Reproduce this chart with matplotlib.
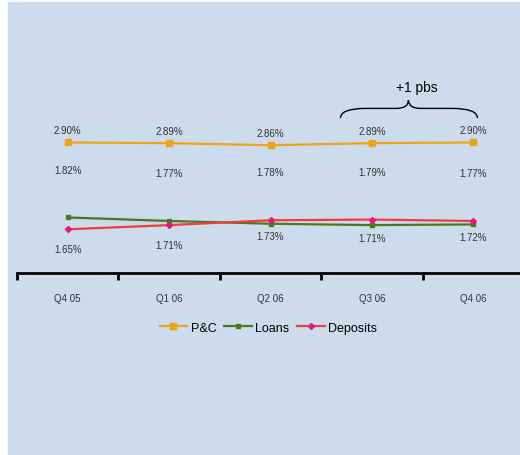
import matplotlib.pyplot as plt
from matplotlib.path import Path
from matplotlib.patches import PathPatch
import numpy as np

quarters = ['Q4 05', 'Q1 06', 'Q2 06', 'Q3 06', 'Q4 06']
pc = [2.90, 2.89, 2.86, 2.89, 2.90]
loans = [1.82, 1.77, 1.73, 1.71, 1.72]
deposits = [1.65, 1.71, 1.78, 1.79, 1.77]
note = '+1 pbs'

plt.rcParams['font.family'] = ['Liberation Sans', 'DejaVu Sans']

bg = '#ccdcec'
fig = plt.figure(figsize=(5.2, 4.56), dpi=100)
fig.patches.append(plt.Rectangle((8 / 520, 0), 1, 1 - 3 / 456, transform=fig.transFigure,
                                 color=bg, zorder=-5))
ax = fig.add_axes([17 / 520, 0.399, 503 / 520, 0.454])
ax.set_facecolor('none')

x = np.arange(len(quarters))
ax.plot(x, pc, color='#eaa51a', lw=1.6, marker='s', ms=4.5, label='P&C')
ax.plot(x, loans, color='#4a7a1e', lw=1.6, marker='s', ms=3, label='Loans')
ax.plot(x, deposits, color='#f03c3c', lw=1.6, marker='D', ms=3, mfc='#e8157a', mec='#e8157a',
        label='Deposits')

txt = dict(ha='center', va='center', fontsize=7, color='#333333')
for i in x:
    ax.annotate(f'{pc[i]:.2f}%', (i, pc[i]), xytext=(0, 9), textcoords='offset points', **txt)
    hi, lo = max(loans[i], deposits[i]), min(loans[i], deposits[i])
    ax.annotate(f'{hi:.2f}%', (i, hi), xytext=(0, 34.5), textcoords='offset points', **txt)
    off = -14 if deposits[i] < loans[i] else -9
    ax.annotate(f'{lo:.2f}%', (i, lo), xytext=(0, off), textcoords='offset points', **txt)

# brace over last two quarters
x0, x1, xm = 2.69, 4.04, 3.36
y0, y1, y2 = 3.25, 3.39, 3.51
codes = [Path.MOVETO, Path.CURVE3, Path.CURVE3, Path.LINETO,
         Path.CURVE3, Path.CURVE3, Path.MOVETO, Path.CURVE3, Path.CURVE3, Path.LINETO,
         Path.CURVE3, Path.CURVE3]
verts = [(x0, y0), (x0, y1), (x0 + 0.25, y1), (xm - 0.12, y1), (xm, y1), (xm, y2),
         (xm, y2), (xm, y1), (xm + 0.12, y1), (x1 - 0.25, y1), (x1, y1), (x1, y0)]
ax.add_patch(PathPatch(Path(verts, codes), fc='none', ec='black', lw=1, clip_on=False))
ax.text(3.44, 3.7, note, ha='center', va='center', fontsize=10, color='black')

ax.set_xlim(-0.5, 4.46)
ax.set_ylim(1.02, 4.0)
for s in ['top', 'right', 'left']:
    ax.spines[s].set_visible(False)
ax.spines['bottom'].set_linewidth(2)
ax.set_yticks([])
ax.set_xticks(np.arange(-0.5, 4.5, 1))
ax.set_xticks(x, minor=True)
ax.set_xticklabels([])
ax.set_xticklabels(quarters, minor=True, fontsize=7, color='#333333')
ax.tick_params(axis='x', which='major', length=5, width=2, direction='out')
ax.tick_params(axis='x', which='minor', length=0, pad=14)

ax.legend(loc='upper center', bbox_to_anchor=(0.5, -0.18), ncol=3, frameon=False,
          fontsize=9, handlelength=2.2, columnspacing=0.6, handletextpad=0.3)

fig.savefig('out.png', dpi=100)
